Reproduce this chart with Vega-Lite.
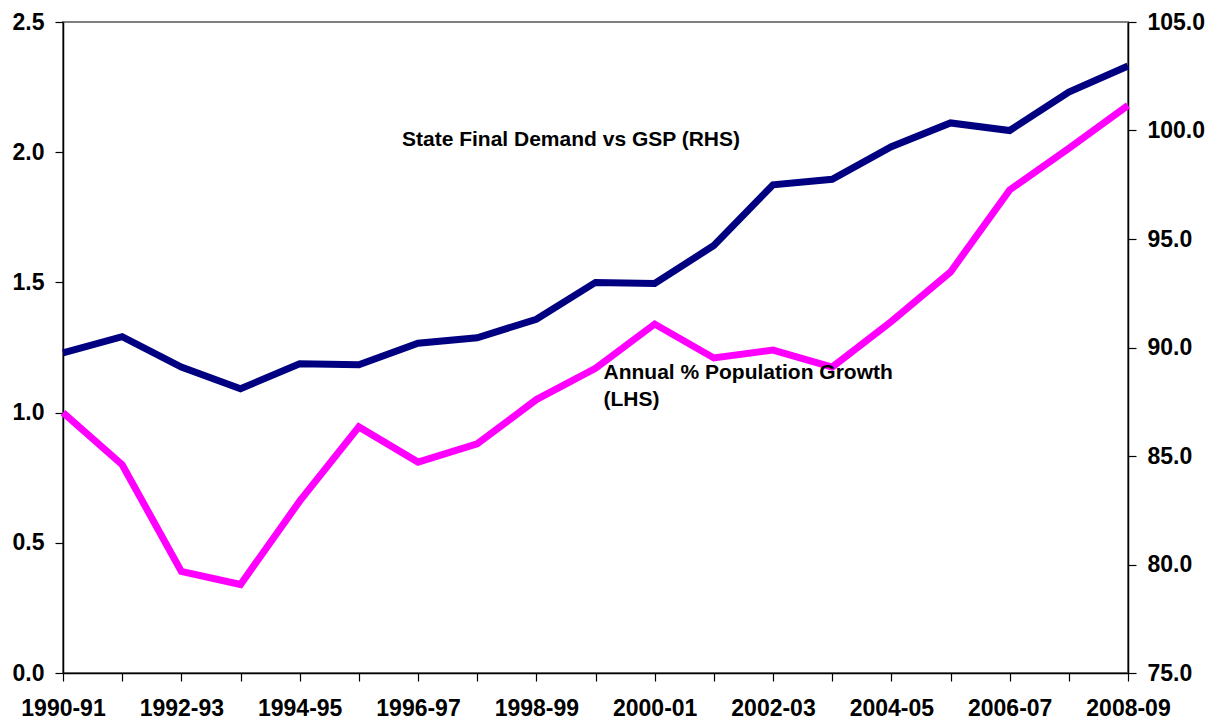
{
  "$schema": "https://vega.github.io/schema/vega-lite/v6.json",
  "width": 1065,
  "height": 651,
  "autosize": "none",
  "padding": {"left": 63, "top": 22, "right": 88, "bottom": 49},
  "background": "white",
  "config": {
    "view": {"stroke": "#808080", "strokeWidth": 2},
    "font": "Liberation Sans",
    "axis": {
      "labelFont": "Liberation Sans",
      "labelFontWeight": "bold",
      "labelFontSize": 23,
      "labelColor": "#000",
      "domainColor": "#000",
      "domainWidth": 1.5,
      "tickColor": "#000",
      "tickWidth": 1.2,
      "tickSize": 8,
      "grid": false,
      "title": null
    }
  },
  "datasets": {
    "series": [
      {"period": "1990-91", "pop": 1.00, "sfd": 89.75},
      {"period": "1991-92", "pop": 0.80, "sfd": 90.5},
      {"period": "1992-93", "pop": 0.39, "sfd": 89.1},
      {"period": "1993-94", "pop": 0.34, "sfd": 88.1},
      {"period": "1994-95", "pop": 0.66, "sfd": 89.25},
      {"period": "1995-96", "pop": 0.945, "sfd": 89.2},
      {"period": "1996-97", "pop": 0.81, "sfd": 90.2},
      {"period": "1997-98", "pop": 0.88, "sfd": 90.45},
      {"period": "1998-99", "pop": 1.05, "sfd": 91.3},
      {"period": "1999-00", "pop": 1.17, "sfd": 93.0},
      {"period": "2000-01", "pop": 1.34, "sfd": 92.95},
      {"period": "2001-02", "pop": 1.21, "sfd": 94.7},
      {"period": "2002-03", "pop": 1.24, "sfd": 97.5},
      {"period": "2003-04", "pop": 1.175, "sfd": 97.75},
      {"period": "2004-05", "pop": 1.35, "sfd": 99.25},
      {"period": "2005-06", "pop": 1.54, "sfd": 100.35},
      {"period": "2006-07", "pop": 1.855, "sfd": 100.0},
      {"period": "2007-08", "pop": 2.015, "sfd": 101.77},
      {"period": "2008-09", "pop": 2.18, "sfd": 102.97}
    ],
    "labels": [
      {"period": "1999-00", "pop": 1.13, "text": ["Annual % Population Growth", "(LHS)"]},
      {"period": "1996-97", "sfd": 99.3, "text": "State Final Demand vs GSP (RHS)"}
    ]
  },
  "encoding": {
    "x": {
      "field": "period",
      "type": "ordinal",
      "sort": null,
      "scale": {"type": "point", "padding": 0},
      "axis": {
        "labelAngle": 0,
        "labelPadding": 16,
        "labelExpr": "toNumber(substring(datum.value, 0, 4)) % 2 == 0 ? datum.value : ''",
        "labelOverlap": false
      }
    }
  },
  "layer": [
    {
      "layer": [
        {
          "data": {"name": "series"},
          "mark": {"type": "line", "color": "#FF00FF", "strokeWidth": 7, "strokeJoin": "miter"},
          "encoding": {
            "y": {
              "field": "pop",
              "type": "quantitative",
              "scale": {"domain": [0, 2.5], "nice": false, "zero": false},
              "axis": {"orient": "left", "values": [0, 0.5, 1, 1.5, 2, 2.5], "format": ".1f", "labelPadding": 11}
            }
          }
        },
        {
          "data": {"name": "labels"},
          "transform": [{"filter": "isValid(datum.pop)"}],
          "mark": {"type": "text", "align": "left", "baseline": "alphabetic", "dx": 8, "fontSize": 21, "fontWeight": "bold", "lineHeight": 27, "color": "#000"},
          "encoding": {
            "y": {"field": "pop", "type": "quantitative"},
            "text": {"field": "text"}
          }
        }
      ]
    },
    {
      "layer": [
        {
          "data": {"name": "series"},
          "mark": {"type": "line", "color": "#000080", "strokeWidth": 7, "strokeJoin": "miter"},
          "encoding": {
            "y": {
              "field": "sfd",
              "type": "quantitative",
              "scale": {"domain": [75, 105], "nice": false, "zero": false},
              "axis": {"orient": "right", "values": [75, 80, 85, 90, 95, 100, 105], "format": ".1f", "labelPadding": 11}
            }
          }
        },
        {
          "data": {"name": "labels"},
          "transform": [{"filter": "isValid(datum.sfd)"}],
          "mark": {"type": "text", "align": "left", "baseline": "alphabetic", "dx": -16, "fontSize": 21, "fontWeight": "bold", "color": "#000"},
          "encoding": {
            "y": {"field": "sfd", "type": "quantitative"},
            "text": {"field": "text"}
          }
        }
      ]
    }
  ],
  "resolve": {"scale": {"y": "independent"}}
}
